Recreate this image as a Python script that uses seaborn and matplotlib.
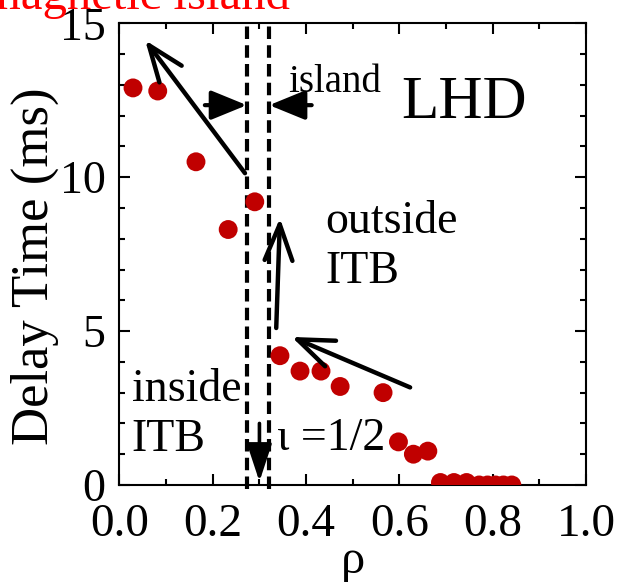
import matplotlib
matplotlib.use("Agg")
import matplotlib.pyplot as plt
import seaborn as sns
import pandas as pd

# Delay time of the heat pulse versus normalized radius
rho = [0.029, 0.082, 0.164, 0.233, 0.290, 0.344, 0.387, 0.432, 0.473, 0.565,
       0.598, 0.630, 0.661, 0.688, 0.717, 0.744, 0.771, 0.789, 0.806, 0.823, 0.841]
delay_ms = [12.9, 12.8, 10.5, 8.3, 9.2, 4.2, 3.7, 3.7, 3.2, 3.0,
            1.4, 1.0, 1.1, 0.08, 0.08, 0.08, 0.0, 0.0, 0.0, 0.0, 0.0]

# Boundaries of the magnetic island around the iota = 1/2 surface
island_edges = [0.273, 0.321]
iota_half = 0.300

x_ticks = [0.0, 0.2, 0.4, 0.6, 0.8, 1.0]
x_tick_labels = ["0.0", "0.2", "0.4", "0.6", "0.8", "1.0"]
y_ticks = [0, 5, 10, 15]
y_tick_labels = ["0", "5", "10", "15"]

df = pd.DataFrame({"rho": rho, "delay": delay_ms})

sns.set_style("ticks")
plt.rcParams["font.family"] = ["Liberation Serif", "DejaVu Serif"]
plt.rcParams["text.color"] = "black"
plt.rcParams["axes.labelcolor"] = "black"
plt.rcParams["xtick.color"] = "black"
plt.rcParams["ytick.color"] = "black"

fig = plt.figure(figsize=(6.22, 5.82), dpi=100)
ax = fig.add_axes([0.1921, 0.1667, 0.750, 0.7933])

# island boundaries
ax.vlines(island_edges, -0.12, 15, colors="black", linewidth=3.0,
          linestyles=[(0, (3, 1.5))], clip_on=False, zorder=2)

sns.scatterplot(data=df, x="rho", y="delay", ax=ax, color="#C00000",
                s=185, edgecolor="none", linewidth=0, zorder=3, legend=False)

ax.set_xlim(0, 1.0)
ax.set_ylim(0, 15)
ax.set_xticks(x_ticks)
ax.set_xticklabels(x_tick_labels)
ax.set_yticks(y_ticks)
ax.set_yticklabels(y_tick_labels)
ax.set_xticks([0.1, 0.3, 0.5, 0.7, 0.9], minor=True)
ax.set_yticks([1, 2, 3, 4, 6, 7, 8, 9, 11, 12, 13, 14], minor=True)

ax.tick_params(which="both", direction="in", top=True, right=True,
               width=1.5, colors="black", labelcolor="black")
ax.tick_params(which="major", length=8)
ax.tick_params(axis="x", which="major", labelsize=34, pad=13)
ax.tick_params(axis="y", which="major", labelsize=33, pad=10)
ax.tick_params(which="minor", length=4.5)
for sp in ax.spines.values():
    sp.set_linewidth(1.5)
    sp.set_color("black")

ax.set_xlabel("ρ", fontsize=35, labelpad=-5)
ax.set_ylabel("Delay Time (ms)", fontsize=38)
ax.yaxis.set_label_coords(-0.13, 0.473)

# arrows
open_head = dict(arrowstyle="->,head_length=1.3,head_width=0.5",
                 mutation_scale=20, lw=3.2, color="black",
                 shrinkA=0, shrinkB=0)
solid_head = dict(arrowstyle="-|>,head_length=1.1,head_width=0.45",
                  mutation_scale=20, lw=3.0, color="black",
                  shrinkA=0, shrinkB=0)
down_head = dict(arrowstyle="-|>,head_length=1.15,head_width=0.38",
                 mutation_scale=20, lw=2.6, color="black",
                 shrinkA=0, shrinkB=0)

ax.annotate("", xy=(0.055, 14.45), xytext=(0.269, 10.13), arrowprops=open_head)
ax.annotate("", xy=(0.344, 8.67), xytext=(0.336, 5.10), arrowprops=open_head)
ax.annotate("", xy=(0.369, 4.81), xytext=(0.623, 3.17), arrowprops=open_head)
ax.annotate("", xy=(island_edges[0], 12.34), xytext=(0.183, 12.34),
            arrowprops=solid_head)
ax.annotate("", xy=(island_edges[1], 12.34), xytext=(0.412, 12.34),
            arrowprops=solid_head)
ax.annotate("", xy=(iota_half, 0.11), xytext=(iota_half, 2.0),
            arrowprops=down_head)

# annotations
ax.text(0.361, 12.76, "island", fontsize=28, ha="left", va="baseline")
ax.text(0.605, 11.92, "LHD", fontsize=44, ha="left", va="baseline")
ax.text(0.4405, 8.18, "outside", fontsize=33, ha="left", va="baseline")
ax.text(0.4405, 6.56, "ITB", fontsize=33, ha="left", va="baseline")
ax.text(0.026, 2.72, "inside", fontsize=33, ha="left", va="baseline")
ax.text(0.026, 1.10, "ITB", fontsize=33, ha="left", va="baseline")
ax.text(0.337, 1.14, "ι =1/2", fontsize=33, ha="left", va="baseline")

fig.text(290 / 622, 1 - 9 / 582, "magnetic island", color="#FF0000",
         fontsize=35, ha="right", va="baseline")

fig.savefig("out.png", dpi=100)
